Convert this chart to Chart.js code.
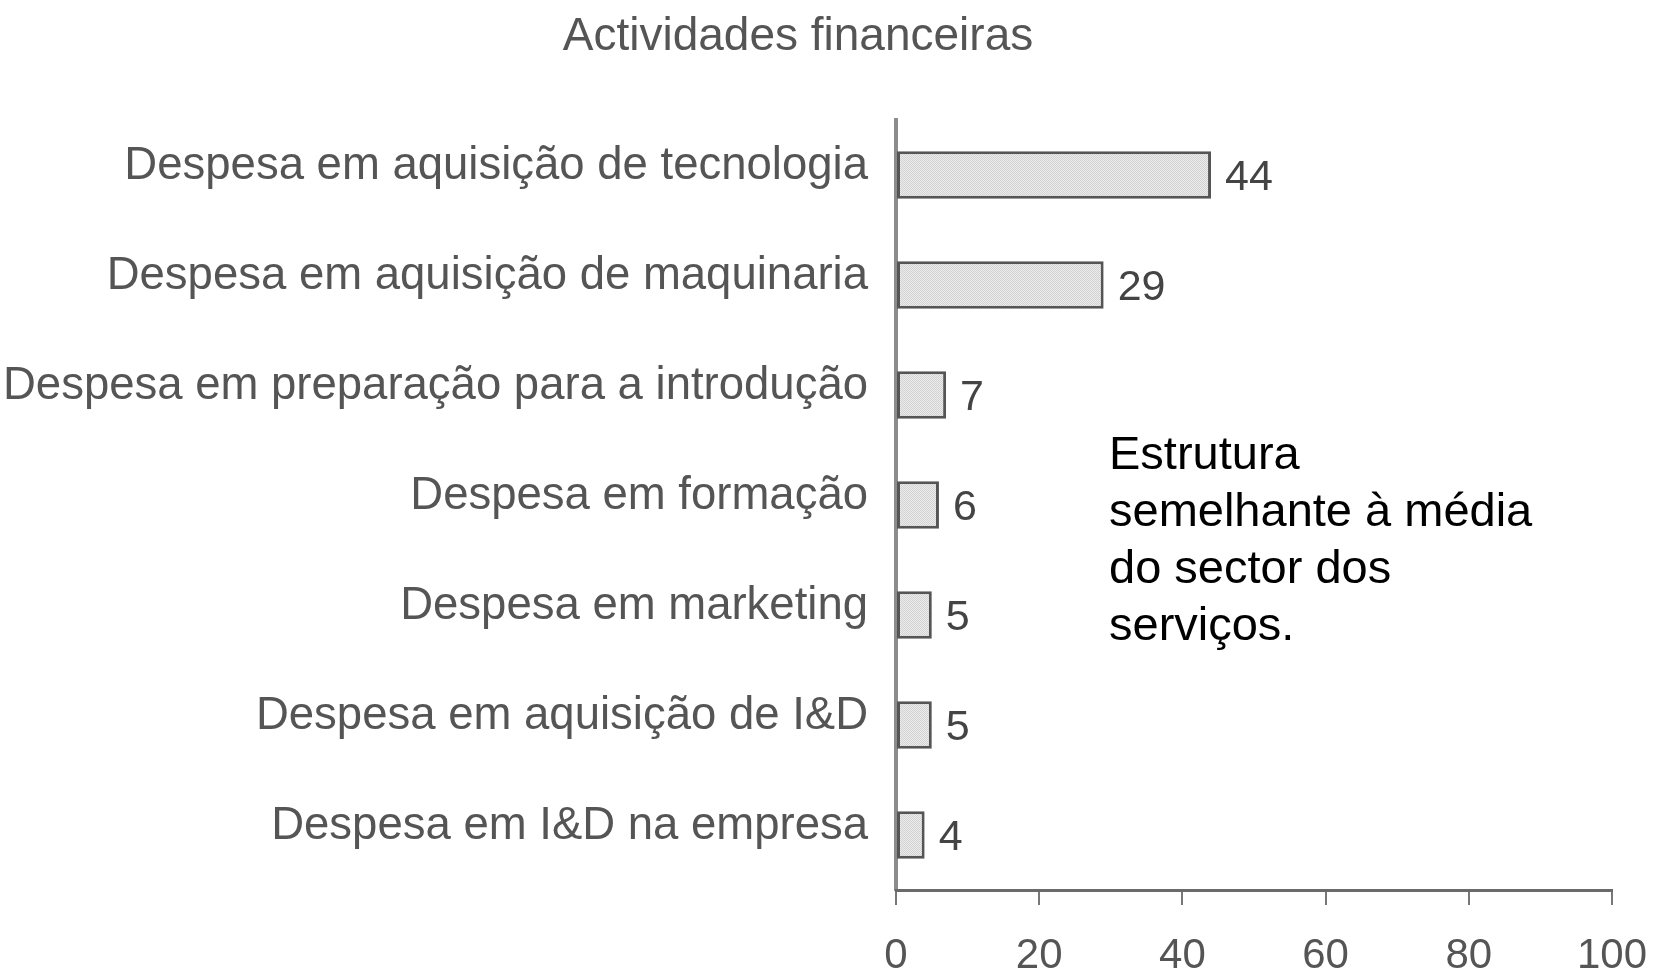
<!DOCTYPE html>
<html>
<head>
<meta charset="utf-8">
<title>Actividades financeiras</title>
<script src="https://cdn.jsdelivr.net/npm/chart.js@4"></script>
<style>
  html, body { margin: 0; padding: 0; background: #fff; }
  #wrap { width: 1667px; height: 972px; position: relative; }
</style>
</head>
<body>
<div id="wrap"><canvas id="barChart"></canvas></div>
<script>
// data
const chartTitle = 'Actividades financeiras';
const categories = [
  'Despesa em aquisição de tecnologia',
  'Despesa em aquisição de maquinaria',
  'Despesa em preparação para a introdução',
  'Despesa em formação',
  'Despesa em marketing',
  'Despesa em aquisição de I&D',
  'Despesa em I&D na empresa'
];
const values = [44, 29, 7, 6, 5, 5, 4];
const xTicks = [0, 20, 40, 60, 80, 100];
const noteLines = ['Estrutura', 'semelhante à média', 'do sector dos', 'serviços.'];

const FONT = "'Liberation Sans', Arial, sans-serif";

// dotted grey fill like the scanned bars
function makePattern() {
  const c = document.createElement('canvas');
  c.width = 2; c.height = 2;
  const g = c.getContext('2d');
  g.fillStyle = '#ececec'; g.fillRect(0, 0, 2, 2);
  g.fillStyle = '#d2d2d2'; g.fillRect(0, 0, 1, 1); g.fillRect(1, 1, 1, 1);
  return g.createPattern(c, 'repeat');
}

// value labels, title and side note
const extras = {
  id: 'extras',
  afterDatasetsDraw(chart) {
    const ctx = chart.ctx;
    const meta = chart.getDatasetMeta(0);
    ctx.save();
    ctx.fillStyle = '#444';
    ctx.font = '43px ' + FONT;
    ctx.textAlign = 'left';
    ctx.textBaseline = 'middle';
    meta.data.forEach((bar, i) => {
      ctx.fillText(String(values[i]), bar.x + 14, bar.y + 3);
    });

    ctx.fillStyle = '#555';
    ctx.font = '46px ' + FONT;
    ctx.textAlign = 'center';
    ctx.fillText(chartTitle, 798, 37);

    ctx.fillStyle = '#000';
    ctx.font = '47px ' + FONT;
    ctx.textAlign = 'left';
    ctx.textBaseline = 'alphabetic';
    noteLines.forEach((line, i) => {
      ctx.fillText(line, 1109, 469 + i * 57);
    });
    ctx.restore();
  }
};

new Chart(document.getElementById('barChart'), {
  type: 'bar',
  data: {
    labels: categories,
    datasets: [{
      data: values,
      backgroundColor: makePattern(),
      borderColor: '#555',
      borderWidth: 3,
      borderSkipped: false,
      barPercentage: 0.43,
      categoryPercentage: 1
    }]
  },
  options: {
    indexAxis: 'y',
    responsive: true,
    maintainAspectRatio: false,
    animation: false,
    layout: { padding: { top: 120, right: 55, left: 0, bottom: 0 } },
    plugins: {
      legend: { display: false },
      title: { display: false },
      tooltip: { enabled: false }
    },
    scales: {
      y: {
        grid: { display: false },
        border: { display: true, color: '#8c8c8c', width: 4 },
        ticks: {
          color: '#555',
          font: { family: FONT, size: 45.5 },
          padding: 20,
          labelOffset: -9
        },
        afterFit(scale) { scale.width = 896; }
      },
      x: {
        min: 0,
        max: 100,
        afterBuildTicks(scale) { scale.ticks = xTicks.map(v => ({ value: v })); },
        grid: { drawOnChartArea: false, drawTicks: true, tickLength: 15, color: '#777', lineWidth: 2 },
        border: { display: true, color: '#6a6a6a', width: 3 },
        ticks: {
          color: '#555',
          font: { family: FONT, size: 42 },
          padding: 26,
          maxRotation: 0
        },
        afterFit(scale) {
          scale.height = 82;
          scale.paddingLeft = 0;
          scale.paddingRight = 0;
        }
      }
    }
  },
  plugins: [extras]
});
</script>
</body>
</html>
